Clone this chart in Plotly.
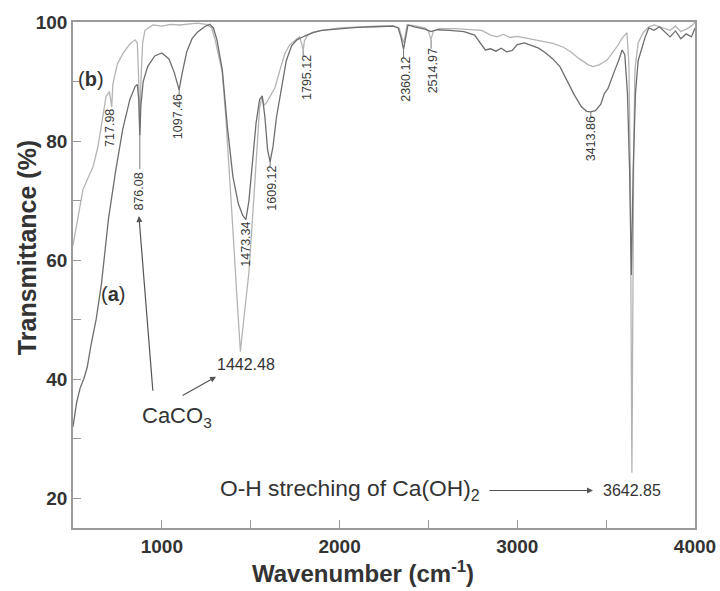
import plotly.graph_objects as go

# ---------------- data ----------------
wn_a = [500, 520, 540, 560, 580, 600, 630, 660, 700, 740, 780, 820, 850, 862, 870, 876, 882, 895,
        920, 960, 1000, 1040, 1070, 1097, 1115, 1140, 1170, 1200, 1240, 1270, 1290, 1310, 1340,
        1370, 1400, 1430, 1455, 1473, 1490, 1510, 1530, 1550, 1565, 1580, 1595, 1609, 1625, 1645,
        1670, 1700, 1730, 1760, 1800, 1850, 1900, 2000, 2100, 2200, 2300, 2330, 2345, 2360, 2372,
        2385, 2420, 2480, 2514, 2550, 2620, 2700, 2760, 2790, 2820, 2850, 2880, 2910, 2940, 2970,
        3000, 3040, 3080, 3120, 3160, 3200, 3240, 3280, 3320, 3360, 3390, 3413, 3440, 3470, 3490,
        3510, 3530, 3550, 3570, 3590, 3605, 3620, 3632, 3642, 3652, 3665, 3680, 3700, 3720, 3740,
        3770, 3800, 3830, 3860, 3890, 3920, 3950, 3980, 4000]
t_a = [32.0, 36.0, 38.5, 40.0, 42.0, 45.5, 50.0, 56.0, 67.0, 75.0, 82.0, 87.0, 89.2, 89.5, 87.0, 81.0,
       86.0, 90.0, 92.5, 94.3, 94.8, 93.8, 91.5, 88.6, 91.5, 95.0, 97.2, 98.3, 99.2, 99.6, 99.0,
       97.0, 92.0, 82.0, 74.0, 69.5, 67.5, 66.8, 70.0, 76.0, 83.0, 87.0, 87.6, 84.0, 78.5, 76.5,
       79.0, 84.0, 88.5, 93.5, 96.0, 97.0, 97.6, 98.2, 98.6, 98.9, 99.1, 99.2, 99.3, 99.0, 97.5,
       95.4, 97.5, 99.5, 99.2, 98.8, 98.4, 98.7, 98.6, 98.4, 97.8, 96.5, 95.3, 95.5, 95.1, 95.6,
       95.0, 95.2, 96.2, 96.5, 96.0, 95.6, 94.8, 93.8, 92.5, 90.2, 87.8, 85.8, 85.0, 84.9, 85.1,
       86.2, 88.0, 88.8, 90.5, 92.0, 93.5, 95.3, 94.5, 88.0, 75.0, 57.5, 75.0, 88.0, 93.5, 95.5,
       97.5, 99.0, 98.6, 99.2, 98.3, 97.5, 98.5, 97.2, 98.0, 97.5, 99.0]

wn_b = [500, 520, 540, 556, 580, 613, 640, 665, 686, 705, 712, 718, 724, 750, 783, 820, 849, 862,
        870, 876, 882, 892, 905, 950, 1000, 1050, 1100, 1150, 1200, 1250, 1280, 1300, 1320, 1340,
        1360, 1380, 1400, 1420, 1435, 1442, 1450, 1470, 1490, 1510, 1530, 1550, 1563, 1575, 1590,
        1610, 1637, 1665, 1693, 1720, 1750, 1775, 1788, 1795, 1802, 1820, 1851, 1900, 2000, 2100,
        2200, 2300, 2335, 2350, 2360, 2368, 2380, 2420, 2480, 2500, 2514, 2528, 2560, 2650, 2750,
        2800, 2850, 2886, 2920, 2960, 3000, 3072, 3150, 3200, 3257, 3300, 3350, 3400, 3426, 3460,
        3505, 3540, 3560, 3590, 3617, 3628, 3636, 3642, 3645, 3649, 3655, 3662, 3680, 3708, 3740,
        3770, 3800, 3830, 3860, 3890, 3920, 3950, 3980, 4000]
t_b = [62.5, 66.0, 69.5, 71.8, 73.5, 75.7, 79.0, 84.0, 87.5, 88.3, 87.0, 85.7, 89.5, 93.0, 94.8,
       96.3, 97.0, 96.5, 90.0, 81.0, 90.0, 96.5, 98.6, 99.5, 99.3, 99.6, 99.5, 99.7, 99.8, 99.6,
       99.0, 97.0, 94.5, 91.5, 84.0, 75.0, 65.0, 55.0, 48.0, 44.6, 47.0, 52.0, 58.0, 67.0, 77.0,
       85.5, 87.4, 86.0, 86.5, 87.5, 89.0, 92.0, 94.8, 96.2, 97.0, 97.5, 96.2, 95.2, 96.8, 97.8,
       98.3, 98.6, 99.0, 99.2, 99.3, 99.4, 99.0, 97.5, 96.5, 97.6, 99.5, 99.4, 99.0, 98.5, 97.0,
       98.5, 98.9, 98.9, 98.7, 98.6, 97.8, 97.5, 97.9, 97.4, 97.6, 97.2, 96.8, 96.4, 95.8, 95.0,
       93.8, 92.8, 92.5, 92.8, 93.6, 95.0, 95.8, 97.3, 98.2, 93.0, 75.0, 40.0, 24.3, 45.0, 78.0,
       92.0, 96.5, 98.2, 99.2, 99.5, 99.2, 98.8, 98.6, 99.3, 98.4, 98.8, 99.3, 100.0]

peak_labels = ["717.98", "876.08", "1097.46", "1473.34", "1609.12", "1795.12", "2360.12",
               "2514.97", "3413.86"]
peak_wn = [717.98, 876.08, 1097.46, 1473.34, 1609.12, 1795.12, 2360.12, 2514.97, 3413.86]
peak_t = [85.7, 81.0, 88.6, 66.8, 76.5, 95.2, 95.4, 97.0, 84.9]

x_ticks = [500, 1000, 1500, 2000, 2500, 3000, 3500, 4000]
x_ticktext = ["", "1000", "", "2000", "", "3000", "", "4000"]
y_ticks = [20, 30, 40, 50, 60, 70, 80, 90, 100]
y_ticktext = ["20", "", "40", "", "60", "", "80", "", "100"]

# ---------------- figure ----------------
FONT = "Liberation Sans, Arial, sans-serif"
fig = go.Figure()
fig.add_trace(go.Scatter(x=wn_b, y=t_b, mode="lines", name="(b)",
                         line=dict(color="#b4b4b4", width=1.3)))
fig.add_trace(go.Scatter(x=wn_a, y=t_a, mode="lines", name="(a)",
                         line=dict(color="#6e6e6e", width=1.3)))

# rotated peak labels (centre positions in data units)
label_x = [708, 874, 1088, 1474, 1623, 1817, 2374, 2523, 3415]
label_y = [82.2, 71.6, 84.1, 62.6, 72.1, 90.6, 90.3, 91.8, 80.3]
half_len = 3.7  # half text length in % units
annots = []
for txt, lx, ly in zip(peak_labels, label_x, label_y):
    annots.append(dict(x=lx, y=ly, text=txt, textangle=-90, showarrow=False,
                       xanchor="center", yanchor="middle",
                       font=dict(family=FONT, size=12.5, color="#3a3a3a")))

# leader lines from dips to labels
shapes = []
for pw, pt, ly in zip(peak_wn, peak_t, label_y):
    top = ly + half_len
    if pt - top > 0.5:
        shapes.append(dict(type="line", x0=pw, x1=pw, y0=pt, y1=top,
                           line=dict(color="#777", width=1)))

# text annotations
annots += [
    dict(x=0.029, y=0.887, xref="paper", yref="paper", text="(<b>b</b>)", showarrow=False,
         xanchor="center", yanchor="middle", font=dict(family=FONT, size=20, color="#333")),
    dict(x=0.064, y=0.462, xref="paper", yref="paper", text="(<b>a</b>)", showarrow=False,
         xanchor="center", yanchor="middle", font=dict(family=FONT, size=20, color="#333")),
    dict(x=1474, y=42.4, text="1442.48", showarrow=False, xanchor="center", yanchor="middle",
         font=dict(family=FONT, size=16, color="#333")),
    dict(x=1085, y=33.6, text="CaCO<sub>3</sub>", showarrow=False, xanchor="center",
         yanchor="middle", font=dict(family=FONT, size=22, color="#333")),
    dict(x=1316, y=21.4, text="O-H streching of Ca(OH)<sub>2</sub>", showarrow=False,
         xanchor="left", yanchor="middle", font=dict(family=FONT, size=22.8, color="#333")),
    dict(x=3642.85, y=21.3, text="3642.85", showarrow=False, xanchor="center",
         yanchor="middle", font=dict(family=FONT, size=16, color="#333")),
    # arrows
    dict(x=871, y=67.4, ax=950, ay=37.8, axref="x", ayref="y", text="", showarrow=True,
         arrowhead=2, arrowsize=1, arrowwidth=1.2, arrowcolor="#555", standoff=0),
    dict(x=1305, y=40.4, ax=1108, ay=37.1, axref="x", ayref="y", text="", showarrow=True,
         arrowhead=2, arrowsize=1, arrowwidth=1.2, arrowcolor="#555", standoff=0),
    dict(x=3426, y=21.3, ax=2835, ay=21.3, axref="x", ayref="y", text="", showarrow=True,
         arrowhead=2, arrowsize=1, arrowwidth=1.2, arrowcolor="#555", standoff=0),
    # axis titles
    dict(x=0.467, y=-0.121, xref="paper", yref="paper", text="<b>Wavenumber (cm<sup>-1</sup>)</b>",
         showarrow=False, xanchor="center", yanchor="bottom",
         font=dict(family=FONT, size=24, color="#333")),
    dict(x=-0.074, y=0.555, xref="paper", yref="paper", text="<b>Transmittance (%)</b>",
         textangle=-90, showarrow=False, xanchor="center", yanchor="middle",
         font=dict(family=FONT, size=25, color="#333")),
]

axis_common = dict(showline=True, mirror=True, linecolor="#9a9a9a", linewidth=1.5,
                   ticks="inside", ticklen=8, tickcolor="#9a9a9a", tickwidth=1.2,
                   showgrid=False, zeroline=False, automargin=False,
                   tickfont=dict(family=FONT, size=19, color="#333", weight="bold"))

fig.update_layout(
    width=720, height=591,
    margin=dict(l=73, r=25, t=22, b=63),
    paper_bgcolor="white", plot_bgcolor="white",
    showlegend=False,
    xaxis=dict(range=[500, 4000], tickvals=x_ticks, ticktext=x_ticktext, **axis_common),
    yaxis=dict(range=[15, 100], tickvals=y_ticks, ticktext=y_ticktext, **axis_common),
    annotations=annots,
    shapes=shapes,
)

fig.write_html("out.html", config={"displayModeBar": False},
               post_script="document.body.style.margin='0px';")
